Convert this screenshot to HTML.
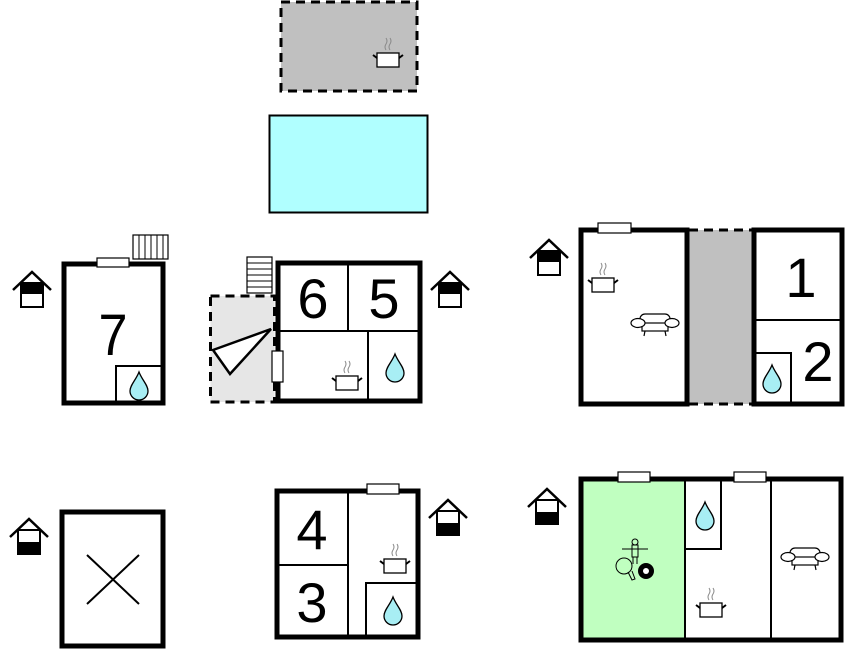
<!DOCTYPE html>
<html><head><style>html,body{margin:0;padding:0;background:#fff}svg{display:block}</style></head>
<body>
<svg width="846" height="652" viewBox="0 0 846 652" xmlns="http://www.w3.org/2000/svg" font-family="Liberation Sans, sans-serif">
<defs>
<g id="hTop"><polyline points="1,20 20,2 39,20" fill="none" stroke="#000" stroke-width="2.5"/><rect x="9" y="13" width="22" height="24" fill="#fff" stroke="#000" stroke-width="2"/><rect x="9" y="13" width="22" height="11" fill="#000"/></g>
<g id="hBot"><polyline points="1,20 20,2 39,20" fill="none" stroke="#000" stroke-width="2.5"/><rect x="9" y="13" width="22" height="24" fill="#fff" stroke="#000" stroke-width="2"/><rect x="9" y="25" width="22" height="12" fill="#000"/></g>
<g id="drop"><path d="M0,-13 C3,-5 9,0 9,6 A9,9 0 0 1 -9,6 C-9,0 -3,-5 0,-13Z" fill="#a8eef4" stroke="#000" stroke-width="1.3"/></g>
<g id="pot"><rect x="-11" y="-7" width="22" height="14" fill="#fff" stroke="#000" stroke-width="1.3"/><path d="M-11,-2 L-15,-5 M11,-2 L15,-5" stroke="#000" stroke-width="2"/><path d="M-2,-10 q-2,-3 0,-6 q2,-3 0,-6 M2,-10 q-2,-3 0,-6 q2,-3 0,-6" fill="none" stroke="#888" stroke-width="1"/></g>
<g id="sofa"><rect x="-15" y="-9" width="30" height="11" rx="5" fill="#fff" stroke="#000" stroke-width="1.2"/><rect x="-13" y="0" width="26" height="8" fill="#fff" stroke="#000" stroke-width="1.2"/><ellipse cx="-17" cy="0" rx="7" ry="4.5" fill="#fff" stroke="#000" stroke-width="1.2"/><ellipse cx="17" cy="0" rx="7" ry="4.5" fill="#fff" stroke="#000" stroke-width="1.2"/><path d="M-10,8 l-1,5 M10,8 l1,5" stroke="#000" stroke-width="1.2"/></g>
</defs>

<rect x="281" y="2" width="136" height="89" fill="#c0c0c0" stroke="#000" stroke-width="3" stroke-dasharray="9,6"/>
<use href="#pot" x="388" y="60"/>
<rect x="269.5" y="115.5" width="158" height="97" fill="#b0ffff" stroke="#000" stroke-width="2"/>

<use href="#hTop" x="12" y="270"/>
<rect x="64" y="264" width="99" height="139" fill="#fff" stroke="#000" stroke-width="5"/>
<rect x="116" y="366" width="47" height="37" fill="none" stroke="#000" stroke-width="2"/>
<use href="#drop" x="139" y="385"/>
<rect x="133" y="235" width="35" height="24" fill="#fff" stroke="#000" stroke-width="1.2"/>
<path d="M139,235v24M145,235v24M151,235v24M157,235v24M163,235v24" stroke="#000" stroke-width="1"/>
<rect x="97" y="258" width="32" height="9" fill="#fff" stroke="#000" stroke-width="1.2"/>
<text x="113" y="355" font-size="58" text-anchor="middle" transform="translate(113,0) scale(0.9,1) translate(-113,0)">7</text>

<rect x="210.5" y="296" width="64" height="106" fill="#e6e6e6" stroke="#000" stroke-width="3" stroke-dasharray="9,6"/>
<polygon points="213,350 271,329 230,374" fill="#fff" stroke="#000" stroke-width="2.5"/>
<rect x="278" y="263" width="142" height="138" fill="#fff" stroke="#000" stroke-width="5"/>
<path d="M348,263v68M278,331h142M368,331v70" stroke="#000" stroke-width="2"/>
<rect x="272" y="351" width="11" height="31" fill="#fff" stroke="#000" stroke-width="1.2"/>
<rect x="247" y="257" width="25" height="36" fill="#fff" stroke="#000" stroke-width="1.2"/>
<path d="M247,263h25M247,269h25M247,275h25M247,281h25M247,287h25" stroke="#000" stroke-width="1"/>
<use href="#pot" x="347" y="383"/>
<use href="#drop" x="395" y="367"/>
<text x="313" y="318" font-size="56" text-anchor="middle">6</text>
<text x="384" y="318" font-size="56" text-anchor="middle">5</text>
<use href="#hTop" x="430" y="270"/>

<use href="#hTop" x="529" y="238"/>
<rect x="689" y="230" width="63" height="174" fill="#c0c0c0"/>
<path d="M689,230h63M689,404h63" stroke="#000" stroke-width="3" stroke-dasharray="9,6"/>
<rect x="581" y="230" width="106" height="174" fill="#fff" stroke="#000" stroke-width="5"/>
<rect x="754" y="230" width="88" height="174" fill="#fff" stroke="#000" stroke-width="5"/>
<path d="M754,320h88" stroke="#000" stroke-width="2"/>
<rect x="754" y="353" width="37" height="51" fill="none" stroke="#000" stroke-width="2"/>
<use href="#drop" x="772" y="378"/>
<rect x="598" y="223" width="33" height="10" fill="#fff" stroke="#000" stroke-width="1.2"/>
<use href="#pot" x="603" y="285"/>
<use href="#sofa" x="655" y="323"/>
<text x="801" y="297" font-size="56" text-anchor="middle">1</text>
<text x="818" y="381" font-size="56" text-anchor="middle">2</text>

<use href="#hBot" x="9" y="517"/>
<rect x="62" y="512" width="101" height="134" fill="#fff" stroke="#000" stroke-width="5"/>
<path d="M87,555L139,604M139,555L87,604" stroke="#000" stroke-width="2"/>

<rect x="277" y="491" width="141" height="146" fill="#fff" stroke="#000" stroke-width="5"/>
<path d="M348,491v146M277,565h71" stroke="#000" stroke-width="2"/>
<rect x="366" y="583" width="52" height="54" fill="none" stroke="#000" stroke-width="2"/>
<use href="#drop" x="393" y="610"/>
<rect x="367" y="484" width="32" height="10" fill="#fff" stroke="#000" stroke-width="1.2"/>
<use href="#pot" x="395" y="566"/>
<text x="312" y="549" font-size="56" text-anchor="middle">4</text>
<text x="312" y="622" font-size="56" text-anchor="middle">3</text>
<use href="#hBot" x="428" y="498"/>

<use href="#hBot" x="527" y="487"/>
<rect x="581" y="479" width="104" height="161" fill="#c0ffc0"/>
<rect x="581" y="479" width="260" height="161" fill="none" stroke="#000" stroke-width="5"/>
<path d="M685,479v161M771,479v161" stroke="#000" stroke-width="2"/>
<path d="M685,549h36v-70" fill="none" stroke="#000" stroke-width="2"/>
<use href="#drop" x="705" y="515"/>
<rect x="618" y="472" width="32" height="10" fill="#fff" stroke="#000" stroke-width="1.2"/>
<rect x="734" y="472" width="32" height="10" fill="#fff" stroke="#000" stroke-width="1.2"/>
<use href="#pot" x="711" y="610"/>
<use href="#sofa" x="805" y="557"/>
<g stroke="#000" stroke-width="1" fill="none">
<path d="M622,549h26"/><circle cx="635" cy="542" r="3"/><path d="M632,545h6v12h-6z M633,557v7M637,557v7"/>
<circle cx="624" cy="566" r="8"/><path d="M628,572l4,8 3,-1 -3,-8"/>
</g>
<circle cx="646" cy="571" r="8" fill="#000"/><circle cx="646" cy="571" r="3" fill="#fff"/>
</svg>
</body></html>
